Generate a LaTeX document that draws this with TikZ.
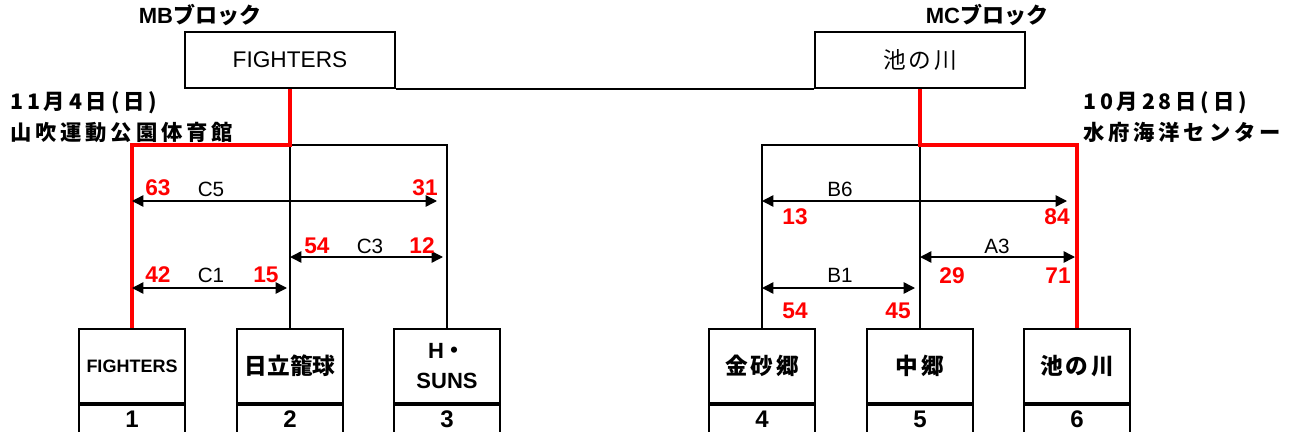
\documentclass[tikz,border=0pt]{standalone}
\usepackage{fontspec}
\setmainfont{Liberation Sans}
\newfontfamily\jp{Noto Sans CJK JP}
\newfontfamily\jpmid{Noto Sans CJK JP}[LetterSpace=12]
\newfontfamily\jpwide{Noto Sans CJK JP}[LetterSpace=18]
\usetikzlibrary{arrows.meta,positioning}

\tikzset{
  box/.style={draw, line width=1.5pt, inner sep=0pt},
  topbox/.style={box, minimum width=157.5pt, minimum height=42pt, font=\fontsize{17}{20}\selectfont},
  teambox/.style={box, minimum width=79pt, minimum height=55.5pt, align=center, font=\bfseries\fontsize{17}{23}\selectfont},
  numbox/.style={box, minimum width=79pt, minimum height=21pt, font=\bfseries\fontsize{18}{20}\selectfont},
  wire/.style={line width=1.5pt},
  winner/.style={red, line width=3.4pt},
  score/.style={line width=1.1pt, arrows={Triangle[length=8.5pt,width=8.5pt]-Triangle[length=8.5pt,width=8.5pt]}},
  pts/.style={red, font=\bfseries\fontsize{17}{20}\selectfont},
  game/.style={font=\fontsize{15.5}{18}\selectfont},
  head/.style={font=\bfseries\fontsize{16.5}{19}\selectfont},
  venue/.style={anchor=west, inner sep=0pt, font={\jpwide\bfseries\fontsize{16}{19}\selectfont}}
}

\begin{document}
\begin{tikzpicture}[x=0.75pt, y=-0.75pt]
    \useasboundingbox (0,0) rectangle (1293,432);

    % --- Blocksieger oben ---
    \node[head] (mbhead) at (200,15) {MB{\jp ブロック}};
    \node[head] (mchead) at (987,15) {MC{\jp ブロック}};
    \node[topbox] (mb) at (290,60) {FIGHTERS};
    \node[topbox] (mc) at (920,60) {\jpmid 池の川};
    \draw[wire] (mb.south east) -- (mc.south west);

    % --- Termine und Hallen ---
    \node[venue] (mbdate) at (10,103) {11月4日(日)};
    \node[venue] (mbhall) at (10,132) {山吹運動公園体育館};
    \node[venue] (mcdate) at (1083,103) {10月28日(日)};
    \node[venue] (mchall) at (1083,132) {水府海洋センター};

    % --- Mannschaften ---
    \node[teambox, font=\bfseries\fontsize{13.5}{16}\selectfont] (t1) at (132,366) {FIGHTERS};
    \node[teambox] (t2) at (290,366) {\jp 日立籠球};
    \node[teambox, font=\bfseries\fontsize{16.5}{23}\selectfont] (t3) at (447,366) {H{\jp ・}\\SUNS};
    \node[teambox] (t4) at (762,366) {\jpmid 金砂郷};
    \node[teambox] (t5) at (920,366) {\jpmid 中郷};
    \node[teambox] (t6) at (1077,366) {\jpmid 池の川};
    \node[numbox, below=0pt of t1] (n1) {1};
    \node[numbox, below=0pt of t2] (n2) {2};
    \node[numbox, below=0pt of t3] (n3) {3};
    \node[numbox, below=0pt of t4] (n4) {4};
    \node[numbox, below=0pt of t5] (n5) {5};
    \node[numbox, below=0pt of t6] (n6) {6};

    % --- Klammern ---
    \coordinate (lj) at (290,145);
    \coordinate (rj) at (920,145);
    \draw[wire] (t2.north) -- (lj) -- (t3.north |- lj) -- (t3.north);
    \draw[wire] (t5.north) -- (rj) -- (t4.north |- lj) -- (t4.north);
    \draw[winner] (mb.south) -- (lj) -| (t1.north);
    \draw[winner] (mc.south) -- (rj) -| (t6.north);

    % --- Spiele MB ---
    \coordinate (c5a) at (132,201);
    \coordinate (c5b) at (437,201);
    \coordinate (c3a) at (290,257);
    \coordinate (c3b) at (443,257);
    \coordinate (c1a) at (132,288);
    \coordinate (c1b) at (287,288);
    \draw[score] (c5a) -- (c5b);
    \draw[score] (c3a) -- (c3b);
    \draw[score] (c1a) -- (c1b);
    \node[game] (c5) at (211,189) {C5};
    \node[game] (c3) at (370,246) {C3};
    \node[game] (c1) at (211,275) {C1};
    \node[pts] (s63) at (158,188) {63};
    \node[pts] (s31) at (425,188) {31};
    \node[pts] (s54) at (317,246) {54};
    \node[pts] (s12) at (422,246) {12};
    \node[pts] (s42) at (158,275) {42};
    \node[pts] (s15) at (266,275) {15};

    % --- Spiele MC ---
    \coordinate (b6a) at (762,201);
    \coordinate (b6b) at (1067,201);
    \coordinate (a3a) at (920,257);
    \coordinate (a3b) at (1075,257);
    \coordinate (b1a) at (762,288);
    \coordinate (b1b) at (915,288);
    \draw[score] (b6a) -- (b6b);
    \draw[score] (a3a) -- (a3b);
    \draw[score] (b1a) -- (b1b);
    \node[game] (b6) at (840,189) {B6};
    \node[game] (a3) at (997,246) {A3};
    \node[game] (b1) at (840,275) {B1};
    \node[pts] (s13) at (795,217) {13};
    \node[pts] (s84) at (1057,217) {84};
    \node[pts] (s29) at (952,276) {29};
    \node[pts] (s71) at (1058,276) {71};
    \node[pts] (s54b) at (795,311) {54};
    \node[pts] (s45) at (898,311) {45};
\end{tikzpicture}
\end{document}
